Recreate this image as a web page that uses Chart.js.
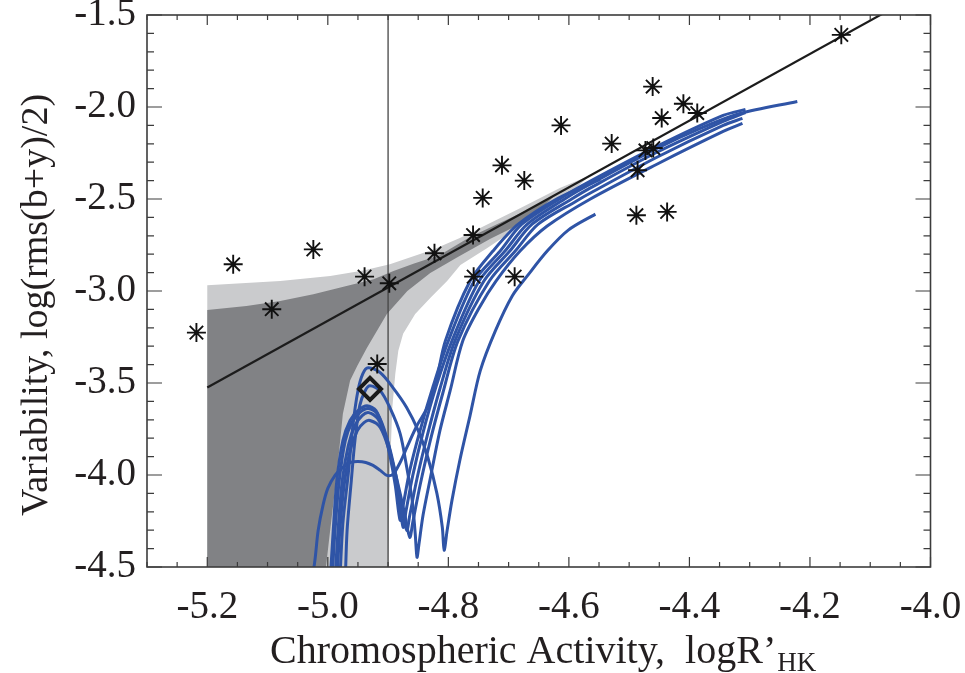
<!DOCTYPE html>
<html>
<head>
<meta charset="utf-8">
<title>Variability vs chromospheric activity</title>
<script src="https://cdn.jsdelivr.net/npm/chart.js@4.4.1/dist/chart.umd.min.js"></script>
<style>
  html, body { margin: 0; padding: 0; background: #fff; }
  #wrap { width: 965px; height: 673px; }
</style>
</head>
<body>
<div id="wrap"><canvas id="varChart" width="965" height="673"></canvas></div>
<script>
// 🔹 axes
const xTickVals = [-5.2, -5.0, -4.8, -4.6, -4.4, -4.2, -4.0];
const yTickVals = [-4.5, -4.0, -3.5, -3.0, -2.5, -2.0, -1.5];
const xTitle = "Chromospheric Activity,  logR\u2019";
const xTitleSub = "HK";
const yTitle = "Variability, log(rms(b+y)/2)";

// 🔹 stars (asterisks)
const starX = [-5.218, -5.157, -5.093, -5.024, -4.939, -4.898, -4.918, -4.823, -4.759, -4.758, -4.743, -4.711, -4.674, -4.690, -4.613, -4.529, -4.488, -4.486, -4.473, -4.460, -4.461, -4.446, -4.437, -4.410, -4.387, -4.148];
const starY = [-3.226, -2.855, -3.099, -2.774, -2.922, -2.958, -3.397, -2.795, -2.696, -2.922, -2.494, -2.317, -2.400, -2.922, -2.100, -2.199, -2.588, -2.344, -2.236, -2.223, -1.889, -2.060, -2.570, -1.982, -2.033, -1.608];

// 🔹 sun (diamond)
const sunX = [-4.930];
const sunY = [-3.532];

// 🔹 fit line and activity cut
const fitX = [-5.2, -4.0];
const fitY = [-3.524, -1.349];
const cutX = [-4.9, -4.9];
const cutY = [-4.5, -1.5];

// 🔹 confidence bands (closed outlines)
const lightBandX = [-5.2, -5.079, -4.996, -4.941, -4.897, -4.825, -4.780, -4.681, -4.615, -4.565, -4.626, -4.681, -4.736, -4.780, -4.802, -4.830, -4.855, -4.875, -4.883, -4.888, -4.893, -4.897, -4.900, -5.2];
const lightBandY = [-2.969, -2.946, -2.919, -2.888, -2.855, -2.774, -2.711, -2.550, -2.440, -2.372, -2.550, -2.647, -2.767, -2.859, -2.946, -3.038, -3.125, -3.233, -3.325, -3.450, -3.634, -3.992, -4.5, -4.5];
const darkBandX = [-5.2, -5.135, -5.079, -5.024, -4.969, -4.924, -4.891, -4.858, -4.814, -4.764, -4.714, -4.664, -4.620, -4.664, -4.731, -4.785, -4.830, -4.868, -4.902, -4.935, -4.951, -4.963, -4.975, -4.985, -4.998, -5.003, -5.2];
const darkBandY = [-3.103, -3.081, -3.054, -3.018, -2.973, -2.936, -2.891, -2.852, -2.805, -2.707, -2.629, -2.553, -2.470, -2.609, -2.718, -2.816, -2.902, -3.000, -3.125, -3.309, -3.406, -3.487, -3.667, -3.992, -4.355, -4.5, -4.5];

// 🔹 model tracks (blue)
const trackAX = [-4.980, -4.975, -4.966, -4.958, -4.950, -4.942, -4.933, -4.913, -4.892, -4.869, -4.850, -4.834, -4.819, -4.810, -4.807, -4.802, -4.794, -4.781, -4.764, -4.747, -4.722, -4.694, -4.669, -4.636, -4.601, -4.556];
const trackAY = [-4.572, -4.263, -3.992, -3.721, -3.542, -3.450, -3.417, -3.444, -3.525, -3.634, -3.759, -3.905, -4.100, -4.284, -4.409, -4.301, -4.138, -3.921, -3.677, -3.433, -3.217, -3.027, -2.918, -2.783, -2.669, -2.582];
const trackBX = [-4.971, -4.968, -4.961, -4.955, -4.947, -4.938, -4.930, -4.913, -4.897, -4.880, -4.869, -4.860, -4.855, -4.852, -4.849, -4.842, -4.830, -4.814, -4.797, -4.776, -4.747, -4.721, -4.681, -4.636, -4.565, -4.454, -4.344, -4.312];
const trackBY = [-4.572, -4.301, -4.030, -3.813, -3.623, -3.542, -3.515, -3.542, -3.634, -3.775, -3.959, -4.138, -4.317, -4.447, -4.382, -4.219, -4.019, -3.759, -3.542, -3.271, -3.081, -2.946, -2.783, -2.647, -2.501, -2.311, -2.133, -2.089];
const track1X = [-4.996, -4.991, -4.985, -4.975, -4.963, -4.950, -4.935, -4.920, -4.907, -4.897, -4.888, -4.880, -4.875, -4.864, -4.847, -4.825, -4.800, -4.757, -4.714, -4.678, -4.611, -4.565, -4.454, -4.344, -4.307];
const track1Y = [-4.572, -4.301, -4.030, -3.813, -3.704, -3.650, -3.623, -3.650, -3.759, -3.894, -4.057, -4.246, -4.165, -3.975, -3.759, -3.515, -3.271, -2.946, -2.783, -2.637, -2.490, -2.404, -2.214, -2.046, -2.013];
const track2X = [-4.993, -4.988, -4.981, -4.971, -4.960, -4.947, -4.933, -4.918, -4.903, -4.893, -4.883, -4.875, -4.870, -4.859, -4.842, -4.820, -4.794, -4.749, -4.706, -4.669, -4.605, -4.565, -4.454, -4.382, -4.316, -4.221];
const track2Y = [-4.572, -4.301, -4.030, -3.813, -3.715, -3.661, -3.639, -3.666, -3.786, -3.932, -4.111, -4.284, -4.192, -4.002, -3.769, -3.515, -3.271, -2.946, -2.783, -2.637, -2.496, -2.420, -2.225, -2.116, -2.035, -1.970];
const track3X = [-4.988, -4.983, -4.976, -4.966, -4.955, -4.943, -4.932, -4.917, -4.900, -4.888, -4.878, -4.869, -4.864, -4.852, -4.835, -4.814, -4.789, -4.741, -4.698, -4.661, -4.596, -4.565, -4.454, -4.344, -4.307];
const track3Y = [-4.572, -4.301, -4.030, -3.840, -3.731, -3.677, -3.661, -3.694, -3.824, -3.986, -4.165, -4.301, -4.219, -4.019, -3.786, -3.531, -3.271, -2.946, -2.783, -2.637, -2.501, -2.441, -2.246, -2.078, -2.030];
const track4X = [-4.985, -4.980, -4.973, -4.963, -4.951, -4.940, -4.930, -4.913, -4.897, -4.883, -4.872, -4.864, -4.859, -4.847, -4.830, -4.809, -4.784, -4.732, -4.689, -4.651, -4.588, -4.565, -4.454, -4.344, -4.312];
const track4Y = [-4.572, -4.301, -4.057, -3.867, -3.759, -3.715, -3.704, -3.742, -3.878, -4.057, -4.219, -4.339, -4.257, -4.057, -3.813, -3.553, -3.271, -2.946, -2.783, -2.637, -2.512, -2.469, -2.273, -2.100, -2.062];
const trackGX = [-5.030, -5.023, -5.016, -5.008, -5.000, -4.988, -4.975, -4.963, -4.950, -4.937, -4.925, -4.913, -4.902, -4.892, -4.880, -4.869, -4.852, -4.835, -4.820, -4.805, -4.764, -4.726, -4.684, -4.618, -4.548];
const trackGY = [-4.572, -4.501, -4.301, -4.165, -4.073, -4.002, -3.959, -3.932, -3.927, -3.932, -3.948, -3.975, -4.002, -3.997, -3.932, -3.851, -3.731, -3.634, -3.488, -3.271, -2.946, -2.783, -2.637, -2.496, -2.393];

document.addEventListener("DOMContentLoaded", () => {

  const pts = (xs, ys) => xs.map((x, i) => ({ x: x, y: ys[i] }));
  const serif = '"Liberation Serif", "Times New Roman", serif';
  const ink = '#231f20';
  const blue = '#2f54a6';

  Chart.defaults.font.family = serif;

  // 🔹 IDL style frame with inward ticks on all four sides
  const frame = {
    id: 'frame',
    afterDatasetsDraw(chart) {
      const { ctx, chartArea: a, scales: { x, y } } = chart;
      ctx.save();
      ctx.strokeStyle = '#3c3c3c';
      ctx.lineWidth = 1.2;
      ctx.beginPath();
      for (let i = 0; i <= 26; i++) {
        const px = x.getPixelForValue(-5.3 + i * 0.05);
        const len = (i - 2) % 4 === 0 ? 10 : 5;
        ctx.moveTo(px, a.bottom); ctx.lineTo(px, a.bottom - len);
        ctx.moveTo(px, a.top); ctx.lineTo(px, a.top + len);
      }
      for (let i = 0; i <= 30; i++) {
        const py = y.getPixelForValue(-4.5 + i * 0.1);
        const len = i % 5 === 0 ? 15 : 7;
        ctx.moveTo(a.left, py); ctx.lineTo(a.left + len, py);
        ctx.moveTo(a.right, py); ctx.lineTo(a.right - len, py);
      }
      ctx.stroke();
      ctx.lineWidth = 1.6;
      ctx.strokeRect(a.left, a.top, a.right - a.left, a.bottom - a.top);
      ctx.restore();
    }
  };

  // 🔹 axis titles (x title has a subscript)
  const titles = {
    id: 'titles',
    afterDraw(chart) {
      const ctx = chart.ctx;
      ctx.save();
      ctx.fillStyle = ink;
      ctx.textBaseline = 'alphabetic';
      ctx.textAlign = 'left';
      ctx.font = '40px ' + serif;
      ctx.fillText(xTitle, 270, 663);
      const w = ctx.measureText(xTitle).width;
      ctx.font = '27px ' + serif;
      ctx.fillText(xTitleSub, 270 + w + 1, 671);
      ctx.font = '38px ' + serif;
      ctx.translate(47, 305);
      ctx.rotate(-Math.PI / 2);
      ctx.textAlign = 'center';
      ctx.fillText(yTitle, 0, 0);
      ctx.restore();
    }
  };

  const track = (xs, ys) => ({
    data: pts(xs, ys),
    showLine: true,
    borderColor: blue,
    borderWidth: 3,
    pointRadius: 0,
    tension: 0.3,
    fill: false,
    clip: 0,
    order: 3
  });

  const datasets = [
    {
      data: pts(sunX, sunY),
      pointStyle: 'rectRot',
      pointRadius: 11,
      borderColor: '#1a1a1a',
      backgroundColor: 'rgba(0,0,0,0)',
      pointBorderWidth: 4,
      order: 0
    },
    {
      data: pts(starX, starY),
      pointStyle: 'star',
      pointRadius: 9.5,
      borderColor: '#111',
      pointBorderWidth: 1.9,
      order: 1
    },
    track(trackAX, trackAY),
    track(trackBX, trackBY),
    track(track1X, track1Y),
    track(track2X, track2Y),
    track(track3X, track3Y),
    track(track4X, track4Y),
    track(trackGX, trackGY),
    {
      data: pts(fitX, fitY),
      showLine: true,
      borderColor: '#1c1c1c',
      borderWidth: 2.2,
      pointRadius: 0,
      clip: 0,
      order: 4
    },
    {
      data: pts(cutX, cutY),
      showLine: true,
      borderColor: '#444',
      borderWidth: 1.3,
      pointRadius: 0,
      clip: 0,
      order: 5
    },
    {
      data: pts(darkBandX, darkBandY),
      showLine: true,
      borderWidth: 0,
      borderColor: 'rgba(0,0,0,0)',
      backgroundColor: '#818285',
      fill: 'shape',
      pointRadius: 0,
      tension: 0,
      clip: 0,
      order: 6
    },
    {
      data: pts(lightBandX, lightBandY),
      showLine: true,
      borderWidth: 0,
      borderColor: 'rgba(0,0,0,0)',
      backgroundColor: '#cacbcd',
      fill: 'shape',
      pointRadius: 0,
      tension: 0,
      clip: 0,
      order: 7
    }
  ];

  const canvas = document.getElementById("varChart");
  new Chart(canvas.getContext('2d'), {
    type: 'scatter',
    data: { datasets: datasets },
    options: {
      responsive: false,
      animation: false,
      events: [],
      layout: { padding: { top: 13, right: 34.5, left: 0, bottom: 0 } },
      plugins: { legend: { display: false }, tooltip: { enabled: false } },
      scales: {
        x: {
          type: 'linear',
          min: -5.3,
          max: -4.0,
          grid: { display: false, drawTicks: false },
          border: { display: false },
          afterBuildTicks: s => { s.ticks = xTickVals.map(v => ({ value: v })); },
          afterFit: s => { s.height = 106; s.paddingLeft = 0; s.paddingRight = 0; },
          ticks: {
            padding: 17,
            autoSkip: false,
            maxRotation: 0,
            color: ink,
            font: { size: 39 },
            callback: v => Number(v).toFixed(1)
          }
        },
        y: {
          type: 'linear',
          min: -4.5,
          max: -1.5,
          grid: { display: false, drawTicks: false },
          border: { display: false },
          afterBuildTicks: s => { s.ticks = yTickVals.map(v => ({ value: v })); },
          afterFit: s => { s.width = 147; s.paddingTop = 0; s.paddingBottom = 0; },
          ticks: {
            padding: 11,
            autoSkip: false,
            color: ink,
            font: { size: 39 },
            callback: v => Number(v).toFixed(1)
          }
        }
      }
    },
    plugins: [frame, titles]
  });

});
</script>
</body>
</html>
